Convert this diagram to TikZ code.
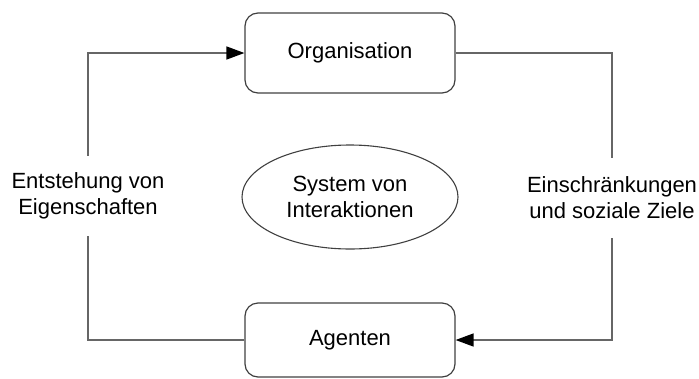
\documentclass[tikz,border=0pt]{standalone}
\usepackage{fontspec}
\setmainfont{Liberation Sans}
\usetikzlibrary{arrows.meta,shapes.geometric}
\begin{document}
\begin{tikzpicture}[x=1pt,y=-1pt,
  every node/.style={font=\fontsize{22}{26}\selectfont, align=center, inner sep=0pt},
  box/.style={draw=black!75, line width=1.2pt, rounded corners=13pt,
              minimum width=210pt},
  oval/.style={draw=black!75, line width=1.1pt, ellipse,
               minimum width=216pt, minimum height=104pt},
  looplabel/.style={minimum height=80pt},
  link/.style={draw=black!60, line width=1.4pt},
  tip/.style={-{Triangle[length=18pt,width=13pt,color=black,fill=black]}}
]
  \useasboundingbox (0,0) rectangle (699,378);

  % the two levels of the loop
  \node[box, minimum height=80pt] (org) at (350,53) {Organisation};
  \node[box, minimum height=74pt] (agents) at (350,340) {Agenten};

  % interaction system in the middle
  \node[oval] (sys) at (350,197) {System von\\Interaktionen};

  % labels on the two sides of the loop
  \node[looplabel] (emerg) at (88,196) {Entstehung von\\Eigenschaften};
  \node[looplabel] (constr) at (612,198) {Einschränkungen\\und soziale Ziele};

  % bottom-up: agents give rise to organisational properties
  \draw[link] (agents.west) -| (emerg.south);
  \draw[link, tip] (emerg.north) |- (org.west);

  % top-down: organisation constrains the agents
  \draw[link] (org.east) -| (constr.north);
  \draw[link, tip] (constr.south) |- (agents.east);
\end{tikzpicture}
\end{document}
